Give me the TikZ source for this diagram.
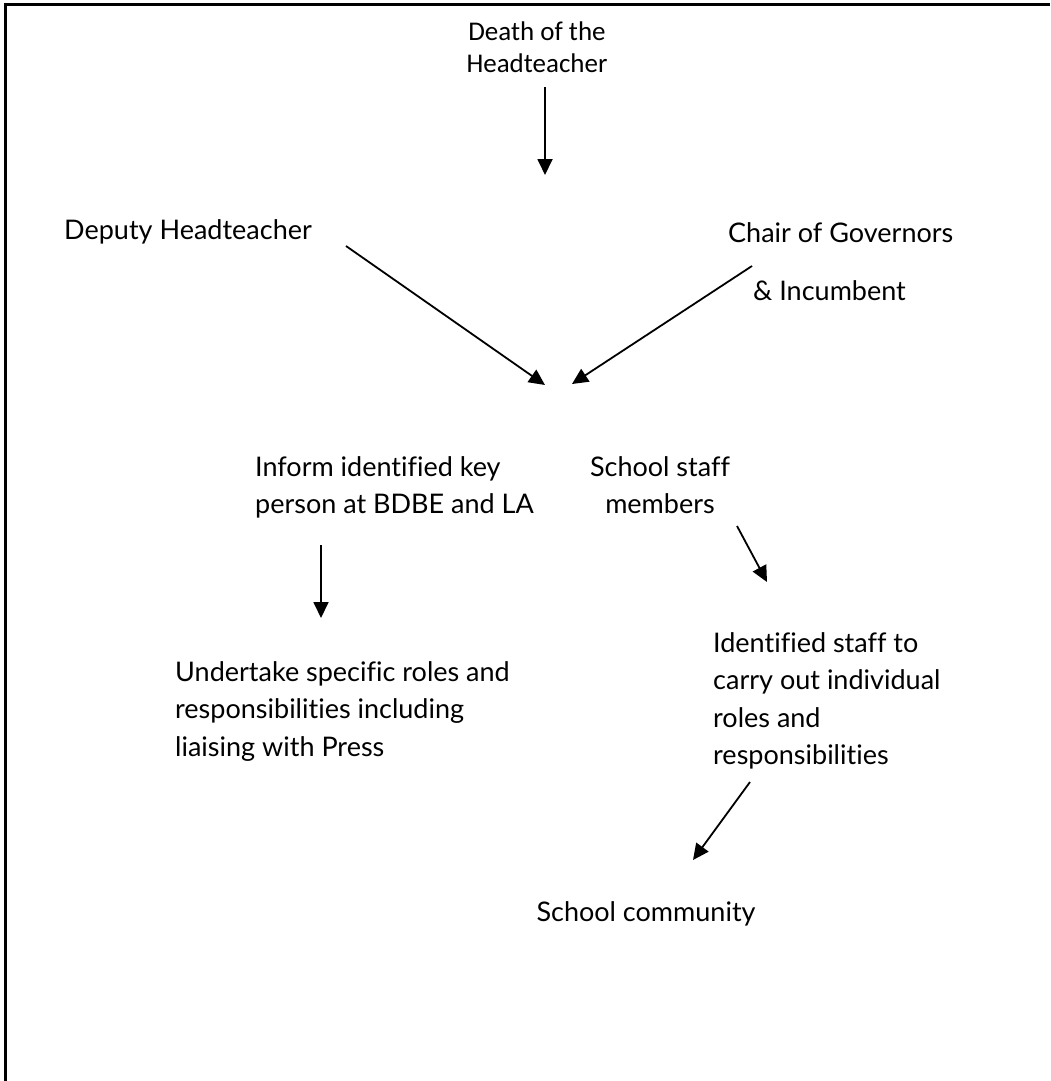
\documentclass[tikz,border=0pt]{standalone}
\usepackage{fontspec}
\setmainfont{Lato}[Ligatures=NoCommon]
\newfontfamily\deathfont{Carlito}[Ligatures=NoCommon]
\usetikzlibrary{arrows.meta,positioning}

\begin{document}
\begin{tikzpicture}[
  x=1pt, y=-1pt,
  txt/.style={inner sep=0pt, font=\fontsize{27}{37.5}\selectfont, align=left},
  top/.style={inner sep=0pt, font=\deathfont\fontsize{27}{32}\selectfont, align=center},
  arrow/.style={-{Triangle[length=16pt,width=15pt]}, line width=1.8pt},
]
\useasboundingbox (0,0) rectangle (1050,1081);

% frame
\draw[line width=3pt] (5,1081) -- (5,5) -- (1050,5);

\node[top, anchor=north] (death) at (537,22) {Death of the\\Headteacher};

\node[txt, anchor=west] (deputy) at (64,232) {Deputy Headteacher};
\node[txt, anchor=north west, font=\fontsize{27}{58}\selectfont] (chair) at (728,222)
  {Chair of Governors\\\hspace*{25pt}\& Incumbent};

\node[txt, anchor=north west] (inform) at (255,456) {Inform identified key\\person at BDBE and LA};
\node[txt, anchor=north, align=center] (staff) at (660,456) {School staff\\members};

\node[txt, anchor=north west] (undertake) at (175,661)
  {Undertake specific roles and\\responsibilities including\\liaising with Press};
\node[txt, anchor=north west] (identified) at (713,632)
  {Identified staff to\\carry out individual\\roles and\\responsibilities};

\node[txt, anchor=center] (community) at (646,914) {School community};

% arrow ends
\coordinate (death-out) at (545,87);
\coordinate (death-in) at (545,175);
\coordinate (deputy-out) at (346,246);
\coordinate (deputy-in) at (545,385);
\coordinate (chair-out) at (752,266);
\coordinate (chair-in) at (572,384);
\coordinate (inform-out) at (321,545);
\coordinate (inform-in) at (321,618);
\coordinate (staff-out) at (737,526);
\coordinate (staff-in) at (767,582);
\coordinate (identified-out) at (750,782);
\coordinate (identified-in) at (693,860);

% arrows
\draw[arrow] (death-out) -- (death-in);
\draw[arrow] (deputy-out) -- (deputy-in);
\draw[arrow] (chair-out) -- (chair-in);
\draw[arrow] (inform-out) -- (inform-in);
\draw[arrow] (staff-out) -- (staff-in);
\draw[arrow] (identified-out) -- (identified-in);

\end{tikzpicture}
\end{document}
